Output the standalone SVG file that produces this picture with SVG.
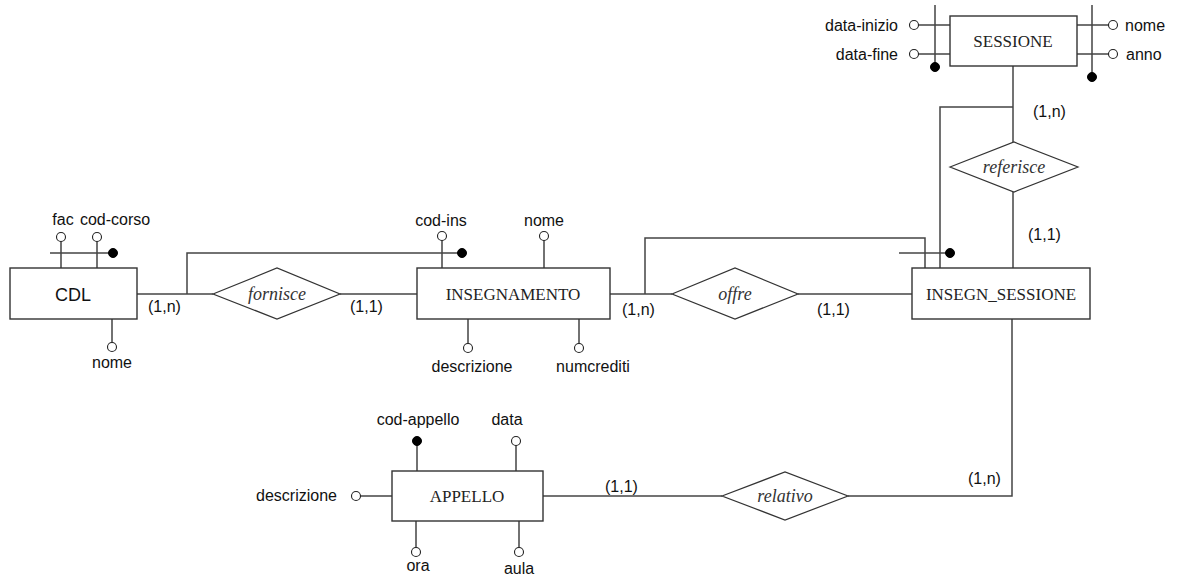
<svg xmlns="http://www.w3.org/2000/svg" width="1177" height="575" viewBox="0 0 1177 575">
<style>
.ent{fill:#fff;stroke:#333;stroke-width:1.4}
.rel{fill:#fff;stroke:#333;stroke-width:1.2}
.ln{fill:none;stroke:#444;stroke-width:1.5}
.att{fill:#fff;stroke:#222;stroke-width:1.1}
.key{fill:#000;stroke:#000;stroke-width:1}
.sans{font-family:"Liberation Sans",Arial,sans-serif;font-size:16px;fill:#111}
.serif{font-family:"Liberation Serif","Times New Roman",serif;font-size:17px;fill:#222}
.ital{font-family:"Liberation Serif","Times New Roman",serif;font-style:italic;font-size:18px;fill:#333}
.mid{text-anchor:middle}
.end{text-anchor:end}
</style>
<rect width="1177" height="575" fill="#fff"/>
<g id="connectors">
<path class="ln" d="M137 294 H213"/>
<path class="ln" d="M340 294 H417"/>
<path class="ln" d="M187 294 V253 H458"/>
<path class="ln" d="M610 294 H672"/>
<path class="ln" d="M798 294 H912"/>
<path class="ln" d="M645 294 V238 H925 V268"/>
<path class="ln" d="M1013 66 V142"/>
<path class="ln" d="M1013 192 V268"/>
<path class="ln" d="M1013 107 H940 V268"/>
<path class="ln" d="M899 253 H946"/>
<path class="ln" d="M543 496 H722"/>
<path class="ln" d="M848 496 H1012 V319"/>
<text class="sans" x="148" y="312">(1,n)</text>
<text class="sans" x="350" y="312">(1,1)</text>
<text class="sans" x="622" y="315">(1,n)</text>
<text class="sans" x="817" y="315">(1,1)</text>
<text class="sans" x="1033" y="117">(1,n)</text>
<text class="sans" x="1028" y="240">(1,1)</text>
<text class="sans" x="605" y="492">(1,1)</text>
<text class="sans" x="968" y="484">(1,n)</text>
</g>
<g id="CDL">
<path class="ln" d="M61 241 V268 M97 241 V268 M50 253 H109 M112 319 V343"/>
<circle class="att" cx="61" cy="237" r="4.5"/>
<circle class="att" cx="97" cy="237" r="4.5"/>
<circle class="key" cx="113" cy="253" r="4.5"/>
<circle class="att" cx="112" cy="347" r="4.5"/>
<rect class="ent" x="10" y="268" width="127" height="51"/>
<text class="sans mid" x="73" y="301" style="font-size:18px">CDL</text>
<text class="sans mid" x="63" y="225">fac</text>
<text class="sans mid" x="115" y="225">cod-corso</text>
<text class="sans mid" x="112" y="368">nome</text>
</g>
<g id="fornisce">
<polygon class="rel" points="213,294 277,268 340,294 277,319"/>
<text class="ital mid" x="277" y="300">fornisce</text>
</g>
<g id="INSEGNAMENTO">
<path class="ln" d="M442 240 V268 M544 240 V268 M468 319 V344 M579 319 V344"/>
<circle class="att" cx="442" cy="236" r="4.5"/>
<circle class="key" cx="462" cy="253" r="4.5"/>
<circle class="att" cx="544" cy="236" r="4.5"/>
<circle class="att" cx="468" cy="348" r="4.5"/>
<circle class="att" cx="579" cy="348" r="4.5"/>
<rect class="ent" x="417" y="268" width="193" height="51"/>
<text class="serif mid" x="513" y="300">INSEGNAMENTO</text>
<text class="sans mid" x="441" y="226">cod-ins</text>
<text class="sans mid" x="544" y="226">nome</text>
<text class="sans mid" x="472" y="372">descrizione</text>
<text class="sans mid" x="593" y="372">numcrediti</text>
</g>
<g id="offre">
<polygon class="rel" points="672,294 735,268 798,294 735,319"/>
<text class="ital mid" x="735" y="300">offre</text>
</g>
<g id="INSEGN_SESSIONE">
<circle class="key" cx="950" cy="253" r="4.5"/>
<rect class="ent" x="912" y="268" width="178" height="51"/>
<text class="serif mid" x="1001" y="300">INSEGN_SESSIONE</text>
</g>
<g id="referisce">
<polygon class="rel" points="950,167 1014,142 1078,167 1014,192"/>
<text class="ital mid" x="1014" y="173">referisce</text>
</g>
<g id="SESSIONE">
<path class="ln" d="M918 25 H950 M918 54 H950 M935 5 V63 M1077 25 H1109 M1077 54 H1109 M1092 5 V73"/>
<circle class="att" cx="914" cy="25" r="4.5"/>
<circle class="att" cx="914" cy="54" r="4.5"/>
<circle class="key" cx="935" cy="67" r="4.5"/>
<circle class="att" cx="1113" cy="25" r="4.5"/>
<circle class="att" cx="1113" cy="54" r="4.5"/>
<circle class="key" cx="1092" cy="77" r="4.5"/>
<rect class="ent" x="950" y="16" width="127" height="50"/>
<text class="serif mid" x="1013" y="47">SESSIONE</text>
<text class="sans end" x="898" y="31">data-inizio</text>
<text class="sans end" x="898" y="60">data-fine</text>
<text class="sans" x="1125" y="31">nome</text>
<text class="sans" x="1126" y="60">anno</text>
</g>
<g id="relativo">
<polygon class="rel" points="722,496 785,472 848,496 785,520"/>
<text class="ital mid" x="785" y="502">relativo</text>
</g>
<g id="APPELLO">
<path class="ln" d="M417 441 V471 M516 445 V471 M360 496 H392 M416 521 V548 M519 521 V548"/>
<circle class="key" cx="417" cy="441" r="4.5"/>
<circle class="att" cx="516" cy="441" r="4.5"/>
<circle class="att" cx="356" cy="496" r="4.5"/>
<circle class="att" cx="416" cy="552" r="4.5"/>
<circle class="att" cx="519" cy="552" r="4.5"/>
<rect class="ent" x="392" y="471" width="151" height="50"/>
<text class="serif mid" x="467" y="502">APPELLO</text>
<text class="sans mid" x="418" y="425">cod-appello</text>
<text class="sans mid" x="507" y="425">data</text>
<text class="sans end" x="337" y="501">descrizione</text>
<text class="sans mid" x="418" y="571">ora</text>
<text class="sans mid" x="519" y="574">aula</text>
</g>
</svg>
